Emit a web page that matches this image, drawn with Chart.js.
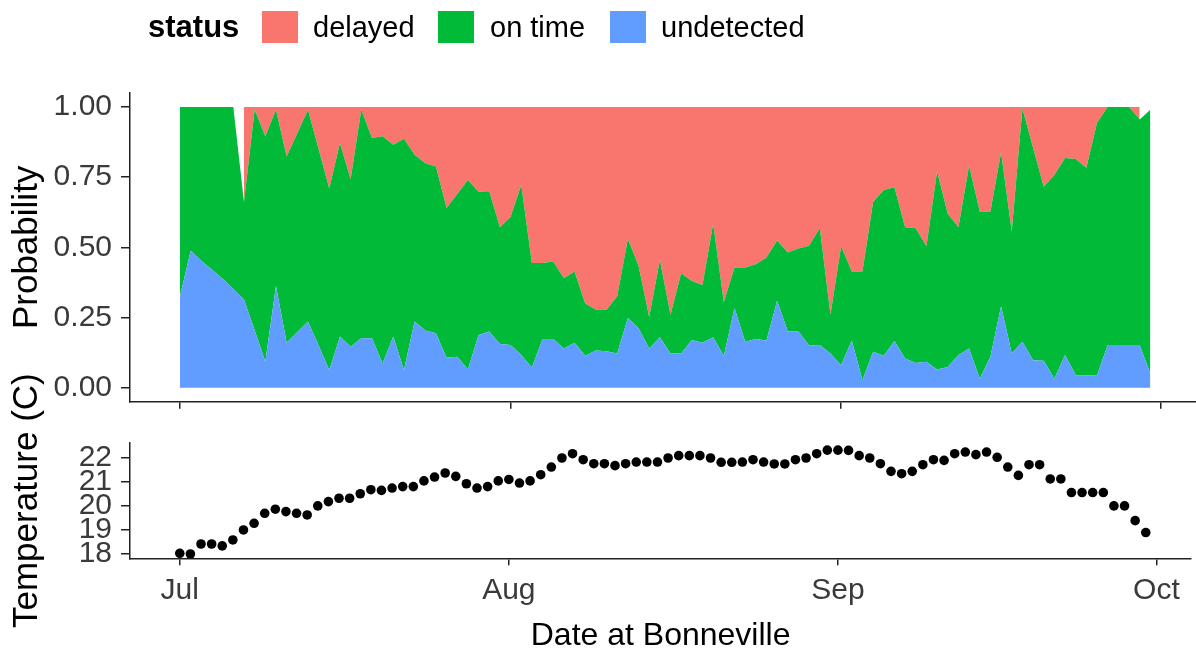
<!DOCTYPE html>
<html>
<head>
<meta charset="utf-8">
<script src="https://cdn.jsdelivr.net/npm/chart.js@4.4.1/dist/chart.umd.min.js"></script>
<style>
  body { margin: 0; background: #fff; font-family: "Liberation Sans", Arial, sans-serif; }
  #wrap { position: relative; width: 1196px; height: 655px; overflow: hidden; }
  canvas { position: absolute; left: 0; }
  #probChart { top: 0; }
  #tempChart { top: 350px; }
  .lg { position: absolute; top: 10px; height: 34px; line-height: 34px; font-size: 29px; color: #000; white-space: nowrap; }
  .key { position: absolute; top: 11px; width: 36px; height: 32px; }
</style>
</head>
<body>
<div id="wrap">
  <canvas id="probChart" width="1196" height="410"></canvas>
  <canvas id="tempChart" width="1196" height="305"></canvas>
  <span class="lg" style="left:148px;font-weight:bold;font-size:31px">status</span>
  <span class="key" style="left:262px;background:#F8766D"></span>
  <span class="lg" style="left:313px">delayed</span>
  <span class="key" style="left:438px;background:#00BA38"></span>
  <span class="lg" style="left:490px">on time</span>
  <span class="key" style="left:610px;background:#619CFF"></span>
  <span class="lg" style="left:661px">undetected</span>
</div>
<script>
// days since Jul 1
const days = [0,1,2,3,4,5,6,7,8,9,10,11,12,13,14,15,16,17,18,19,20,21,22,23,24,25,26,27,28,29,30,
  31,32,33,34,35,36,37,38,39,40,41,42,43,44,45,46,47,48,49,50,51,52,53,54,55,56,57,58,59,60,61,
  62,63,64,65,66,67,68,69,70,71,72,73,74,75,76,77,78,79,80,81,82,83,84,85,86,87,88,89,90,91];

const undetected = [0.326,0.488,0.452,0.420,0.388,0.352,0.314,0.205,0.092,0.362,0.160,0.198,0.236,0.150,0.062,
  0.182,0.146,0.176,0.176,0.086,0.182,0.062,0.236,0.204,0.194,0.107,0.110,0.065,0.188,0.200,0.156,
  0.152,0.116,0.072,0.173,0.173,0.140,0.160,0.114,0.132,0.130,0.122,0.248,0.212,0.140,0.180,0.122,
  0.122,0.170,0.160,0.180,0.113,0.284,0.164,0.173,0.168,0.310,0.200,0.200,0.150,0.152,0.122,0.080,
  0.168,0.026,0.128,0.114,0.166,0.104,0.088,0.092,0.065,0.074,0.116,0.140,0.032,0.110,0.290,0.122,
  0.164,0.098,0.096,0.032,0.116,0.044,0.044,0.044,0.152,0.152,0.152,0.152,0.050];

const onTime = [0.674,0.512,0.548,0.580,0.612,0.648,0.348,0.785,0.804,0.628,0.664,0.709,0.754,0.700,0.648,
  0.690,0.597,0.814,0.714,0.810,0.684,0.825,0.594,0.596,0.594,0.533,0.580,0.675,0.510,0.500,0.416,
  0.456,0.606,0.372,0.271,0.277,0.250,0.254,0.186,0.146,0.148,0.204,0.282,0.222,0.112,0.275,0.138,
  0.286,0.210,0.206,0.404,0.191,0.144,0.264,0.267,0.296,0.214,0.282,0.296,0.356,0.417,0.138,0.424,
  0.246,0.388,0.534,0.590,0.548,0.468,0.480,0.412,0.705,0.546,0.456,0.651,0.596,0.518,0.549,0.434,
  0.831,0.757,0.620,0.726,0.702,0.771,0.740,0.900,0.848,0.848,0.848,0.804,0.940];

const delayed = [null,null,null,null,null,null,0.338,0.010,0.104,0.010,0.176,0.093,0.010,0.150,0.290,
  0.128,0.257,0.010,0.110,0.104,0.134,0.113,0.170,0.200,0.212,0.360,0.310,0.260,0.302,0.300,0.428,
  0.392,0.278,0.556,0.556,0.550,0.610,0.586,0.700,0.722,0.722,0.674,0.470,0.566,0.748,0.545,0.740,
  0.592,0.620,0.634,0.416,0.696,0.572,0.572,0.560,0.536,0.476,0.518,0.504,0.494,0.431,0.740,0.496,
  0.586,0.586,0.338,0.296,0.286,0.428,0.432,0.496,0.230,0.380,0.428,0.209,0.372,0.372,0.161,0.444,
  0.005,0.145,0.284,0.242,0.182,0.185,0.216,0.056,0,0,0,0.044,null];

const temperature = [18.0,17.97,18.39,18.39,18.31,18.56,18.98,19.26,19.68,19.85,19.75,19.68,19.61,19.99,20.17,
  20.31,20.31,20.50,20.67,20.64,20.74,20.80,20.80,21.04,21.20,21.37,21.23,20.92,20.74,20.80,21.04,
  21.10,20.95,21.04,21.30,21.62,22.00,22.18,21.93,21.76,21.76,21.68,21.76,21.83,21.83,21.83,22.00,
  22.10,22.10,22.10,22.00,21.82,21.82,21.83,21.93,21.83,21.75,21.75,21.93,22.00,22.18,22.33,22.33,
  22.32,22.10,22.00,21.76,21.44,21.34,21.44,21.72,21.93,21.90,22.18,22.25,22.14,22.25,22.03,21.62,
  21.27,21.72,21.72,21.12,21.12,20.55,20.55,20.55,20.55,19.99,19.99,19.37,18.87];

const dateTicks = [0, 31, 62, 92];
const dateLabels = ['Jul', 'Aug', 'Sep', 'Oct'];
const probTicks = [0, 0.25, 0.5, 0.75, 1];
const tempTicks = [18, 19, 20, 21, 22];

const FONT = '"Liberation Sans", Arial, sans-serif';
const tickFont = { family: FONT, size: 30 };
const axisColor = '#222';
const tickColor = '#3a3a3a';

function pts(vals) {
  return days.map((d, i) => ({ x: d, y: vals[i] }));
}

function xScale(showLabels) {
  return {
    type: 'linear',
    min: -4.69,
    max: 95.28,
    afterBuildTicks: s => { s.ticks = dateTicks.map(v => ({ value: v })); },
    afterFit: s => {
      s.height = showLabels ? 96.7 : 8.3;
      s.paddingLeft = 0;
      s.paddingRight = 0;
    },
    grid: { display: true, drawOnChartArea: false, drawTicks: true, tickLength: 7, color: axisColor, lineWidth: 1.5 },
    border: { display: true, color: axisColor, width: 1.5 },
    ticks: {
      display: showLabels,
      autoSkip: false,
      maxRotation: 0,
      padding: 7,
      color: tickColor,
      font: tickFont,
      callback: v => dateLabels[dateTicks.indexOf(v)]
    },
    title: showLabels
      ? { display: true, text: 'Date at Bonneville', color: '#000', font: { family: FONT, size: 32 }, padding: { top: 0, bottom: 0 } }
      : { display: false }
  };
}

function yScale(ticks, fmt, title, min, max, stacked) {
  return {
    type: 'linear',
    stacked: stacked,
    min: min,
    max: max,
    afterBuildTicks: s => { s.ticks = ticks.map(v => ({ value: v })); },
    afterFit: s => {
      s.width = 130;
      s.paddingTop = 0;
      s.paddingBottom = 0;
    },
    grid: { display: true, drawOnChartArea: false, drawTicks: true, tickLength: 9, color: axisColor, lineWidth: 1.5 },
    border: { display: true, color: axisColor, width: 1.5 },
    ticks: { autoSkip: false, padding: 9, color: tickColor, font: tickFont, callback: fmt },
    title: { display: true, text: title, color: '#000', font: { family: FONT, size: 35 }, padding: { top: 6, bottom: 0 } }
  };
}

function area(label, vals, color, fill) {
  return {
    label: label,
    data: pts(vals),
    backgroundColor: color,
    borderColor: 'transparent',
    borderWidth: 0,
    pointRadius: 0,
    pointHoverRadius: 0,
    tension: 0,
    fill: fill
  };
}

new Chart(document.getElementById('probChart'), {
  type: 'line',
  data: {
    datasets: [
      area('undetected', undetected, '#619CFF', 'origin'),
      area('on time', onTime, '#00BA38', '-1'),
      area('delayed', delayed, '#F8766D', '-1')
    ]
  },
  options: {
    responsive: false,
    animation: false,
    devicePixelRatio: 1,
    layout: { padding: { top: 93, right: 0, bottom: 0, left: 0 } },
    plugins: { legend: { display: false }, tooltip: { enabled: false } },
    scales: {
      x: xScale(false),
      y: yScale(probTicks, v => v.toFixed(2), 'Probability', -0.05, 1.05, true)
    }
  }
});

new Chart(document.getElementById('tempChart'), {
  type: 'scatter',
  data: {
    datasets: [{
      label: 'temperature',
      data: pts(temperature),
      backgroundColor: '#000',
      borderWidth: 0,
      pointRadius: 4.8,
      pointHoverRadius: 4.8
    }]
  },
  options: {
    responsive: false,
    animation: false,
    devicePixelRatio: 1,
    layout: { padding: { top: 93, right: 0, bottom: 0, left: 0 } },
    plugins: { legend: { display: false }, tooltip: { enabled: false } },
    scales: {
      x: xScale(true),
      y: yScale(tempTicks, v => String(v), 'Temperature (C)', 17.79, 22.63, false)
    }
  }
});
</script>
</body>
</html>
